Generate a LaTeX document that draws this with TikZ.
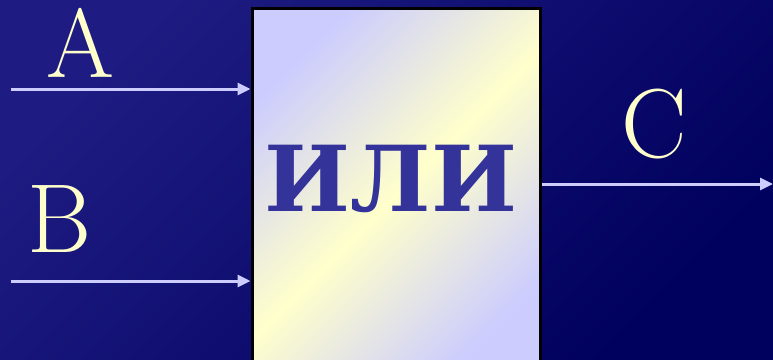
\documentclass[tikz,border=0pt]{standalone}
\usepackage{fontspec}
\newfontfamily\cyrfont{DejaVu Serif}
\usetikzlibrary{arrows.meta}

\definecolor{bgtop}{HTML}{1E1C82}
\definecolor{bgbot}{HTML}{00005E}
\definecolor{lav}{HTML}{CCCCFF}
\definecolor{pale}{HTML}{FFFFCC}
\definecolor{gatetxt}{HTML}{333399}

\tikzset{
  wire/.style={draw=lav, line width=3pt, -{Triangle[length=13pt,width=12pt]}},
  letter/.style={text=pale, font=\fontsize{98}{98}\selectfont, inner sep=0pt,
                 text height=67pt, text depth=1pt, anchor=base}
}

\begin{document}
\begin{tikzpicture}[x=1pt,y=-1pt]

% background
\useasboundingbox (0,0) rectangle (773,359);
\clip (0,0) rectangle (773,359);
\shade[top color=bgtop, bottom color=bgbot, shading angle=45] (0,0) rectangle (773,359);

% gate
\shade[top color=lav, bottom color=lav, middle color=pale, shading angle=45]
      (252,8) rectangle (540,380);
\node[draw=black, line width=3pt, minimum width=288pt, minimum height=372pt,
      inner sep=0pt] (gate) at (396,194) {};
\node[text=gatetxt, font=\cyrfont\bfseries\fontsize{91}{91}\selectfont, inner sep=0pt, anchor=base]
      (name) at (391,211) {ИЛИ};

% inputs and output
\coordinate (inA) at (11,89);
\coordinate (inB) at (11,281);
\coordinate (outC) at (773,184);
\draw[wire] (inA) -- (gate.west |- inA);
\draw[wire] (inB) -- (gate.west |- inB);
\draw[wire] (gate.east |- outC) -- (outC);

% labels
\node[letter] (labA) at (80,77) {A};
\node[letter] (labB) at (60,252) {B};
\node[letter] (labC) at (654,157) {C};

\end{tikzpicture}
\end{document}
